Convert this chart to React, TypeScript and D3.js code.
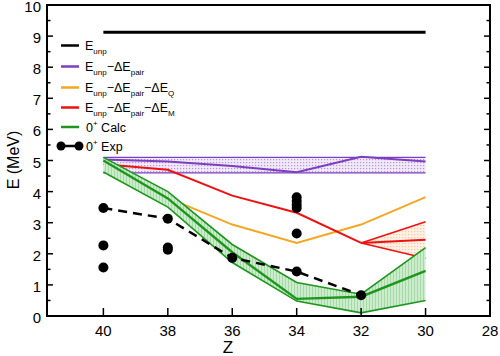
import React from "react";
import * as d3 from "d3";

const Z = [40, 38, 36, 34, 32, 30];
const unpZ = [40, 30];
const unpE = [9.12, 9.12];
const pairUpper = [5.1, 5.1, 5.1, 5.1, 5.1, 5.1];
const pairCenter = [5.03, 4.97, 4.82, 4.62, 5.12, 4.97];
const pairLower = [4.6, 4.6, 4.6, 4.6, 4.6, 4.6];
const quadE = [5.0, 3.8, 2.94, 2.35, 2.94, 3.82];
const magZ = [40, 38, 36, 34, 32];
const magE = [4.88, 4.7, 3.87, 3.32, 2.35];
const magFanZ = [32, 30];
const magFanUpper = [2.35, 3.03];
const magFanMid = [2.35, 2.45];
const magFanLower = [2.35, 1.86];
const calcUpper = [5.1, 4.0, 2.3, 1.08, 0.7, 2.2];
const calcCenter = [5.0, 3.78, 2.05, 0.55, 0.62, 1.45];
const calcLower = [4.63, 3.5, 1.72, 0.48, 0.1, 0.5];
const gsZ = [40, 38, 36, 34, 32];
const gsE = [3.47, 3.13, 1.87, 1.43, 0.67];
const expZ = [40, 40, 40, 38, 38, 38, 36, 34, 34, 34, 34, 34, 34, 32];
const expE = [3.47, 2.27, 1.56, 3.13, 2.2, 2.13, 1.87, 3.82, 3.7, 3.58, 3.47, 2.65, 1.43, 0.67];
const xTicks = [40, 38, 36, 34, 32, 30, 28];
const yTicks = [0, 1, 2, 3, 4, 5, 6, 7, 8, 9, 10];

const PURPLE = "#7b3fbf";
const ORANGE = "#f5a623";
const RED = "#ee1111";
const GREEN = "#1e961e";
const FONT = "'Liberation Sans', Arial, Helvetica, sans-serif";

export default function App() {
  const x = d3.scaleLinear().domain([41.75, 28]).range([47, 490]);
  const y = d3.scaleLinear().domain([0, 10]).range([316, 5]);
  const line = (zs: number[], es: number[]) =>
    d3.line<number>().x((_, i) => x(zs[i])).y((_, i) => y(es[i]))(zs) || "";
  const area = (zs: number[], lo: number[], hi: number[]) =>
    d3
      .area<number>()
      .x((_, i) => x(zs[i]))
      .y0((_, i) => y(lo[i]))
      .y1((_, i) => y(hi[i]))(zs) || "";

  const minor = d3.range(0, 10.01, 0.5).filter((v) => Math.abs(v - Math.round(v)) > 0.1);

  const legendRows = [45.5, 66.5, 87.5, 107.5, 127, 146];
  const lx0 = 61;
  const lx1 = 79;
  const tx = 85;

  return (
    <svg
      width={500}
      height={356}
      style={{ position: "absolute", left: 0, top: 0, background: "#fff" }}
      fontFamily={FONT}
    >
      <defs>
        <pattern id="pPurple" width="3" height="3" patternUnits="userSpaceOnUse">
          <rect width="3" height="3" fill="#f1e9f8" />
          <rect width="1.2" height="1.2" fill="#b596dc" />
        </pattern>
        <pattern id="pRed" width="3" height="3" patternUnits="userSpaceOnUse">
          <rect width="3" height="3" fill="#fff1e4" />
          <rect width="1.2" height="1.2" fill="#f7c8a8" />
        </pattern>
        <pattern id="pGreen" width="3" height="3" patternUnits="userSpaceOnUse">
          <rect width="3" height="3" fill="#cdeccd" />
          <rect width="1" height="3" fill="#a5d9a5" />
        </pattern>
      </defs>

      {/* purple band */}
      <path d={area(Z, pairLower, pairUpper)} fill="url(#pPurple)" />
      <path d={line(Z, pairUpper)} fill="none" stroke={PURPLE} strokeWidth={1.3} />
      <path d={line(Z, pairLower)} fill="none" stroke={PURPLE} strokeWidth={1.3} />
      <path d={line(Z, pairCenter)} fill="none" stroke={PURPLE} strokeWidth={2} />

      {/* red fan band */}
      <path d={area(magFanZ, magFanLower, magFanUpper)} fill="url(#pRed)" />

      {/* orange */}
      <path d={line(Z, quadE)} fill="none" stroke={ORANGE} strokeWidth={2} />

      {/* red */}
      <path d={line(magZ, magE)} fill="none" stroke={RED} strokeWidth={2} />
      <path d={line(magFanZ, magFanUpper)} fill="none" stroke={RED} strokeWidth={1.5} />
      <path d={line(magFanZ, magFanMid)} fill="none" stroke={RED} strokeWidth={2} />
      <path d={line(magFanZ, magFanLower)} fill="none" stroke={RED} strokeWidth={1.5} />

      {/* green band */}
      <path d={area(Z, calcLower, calcUpper)} fill="url(#pGreen)" />
      <path d={line(Z, calcUpper)} fill="none" stroke={GREEN} strokeWidth={1.6} />
      <path d={line(Z, calcLower)} fill="none" stroke={GREEN} strokeWidth={1.6} />
      <path d={line(Z, calcCenter)} fill="none" stroke={GREEN} strokeWidth={2.4} />

      {/* E_unp */}
      <path d={line(unpZ, unpE)} fill="none" stroke="#000" strokeWidth={3} />

      {/* experiment */}
      <path
        d={line(gsZ, gsE)}
        fill="none"
        stroke="#000"
        strokeWidth={2.5}
        strokeDasharray="9,6"
      />
      {expZ.map((z, i) => (
        <circle key={i} cx={x(z)} cy={y(expE[i])} r={5} fill="#000" />
      ))}

      {/* frame */}
      <rect x={47} y={5} width={443} height={311} fill="none" stroke="#000" strokeWidth={2} />

      {/* y ticks */}
      {yTicks.map((v) => (
        <g key={"y" + v}>
          <line x1={47} x2={53} y1={y(v)} y2={y(v)} stroke="#000" strokeWidth={1.5} />
          <line x1={490} x2={484} y1={y(v)} y2={y(v)} stroke="#000" strokeWidth={1.5} />
          <text x={41} y={y(v) + 1.8} dy="0.35em" textAnchor="end" fontSize={15}>
            {v}
          </text>
        </g>
      ))}
      {minor.map((v) => (
        <g key={"m" + v}>
          <line x1={47} x2={50.5} y1={y(v)} y2={y(v)} stroke="#000" strokeWidth={1.5} />
          <line x1={490} x2={486.5} y1={y(v)} y2={y(v)} stroke="#000" strokeWidth={1.5} />
        </g>
      ))}

      {/* x ticks */}
      {xTicks.map((v) => (
        <g key={"x" + v}>
          <line x1={x(v)} x2={x(v)} y1={316} y2={308} stroke="#000" strokeWidth={1.5} />
          <text x={x(v)} y={336} textAnchor="middle" fontSize={15}>
            {v}
          </text>
        </g>
      ))}

      {/* axis titles */}
      <text x={228} y={353} textAnchor="middle" fontSize={17}>
        Z
      </text>
      <text transform="translate(19,160) rotate(-90)" textAnchor="middle" fontSize={16}>
        E (MeV)
      </text>

      {/* legend */}
      <line x1={lx0} x2={lx1} y1={legendRows[0]} y2={legendRows[0]} stroke="#000" strokeWidth={2.5} />
      <line x1={lx0} x2={lx1} y1={legendRows[1]} y2={legendRows[1]} stroke={PURPLE} strokeWidth={2.5} />
      <line x1={lx0} x2={lx1} y1={legendRows[2]} y2={legendRows[2]} stroke={ORANGE} strokeWidth={2.5} />
      <line x1={lx0} x2={lx1} y1={legendRows[3]} y2={legendRows[3]} stroke={RED} strokeWidth={2.5} />
      <line x1={lx0} x2={lx1} y1={legendRows[4]} y2={legendRows[4]} stroke={GREEN} strokeWidth={2.5} />
      <line x1={lx0} x2={lx1} y1={legendRows[5]} y2={legendRows[5]} stroke="#000" strokeWidth={2.5} />
      <circle cx={lx0} cy={legendRows[5]} r={4.5} fill="#000" />
      <circle cx={lx1} cy={legendRows[5]} r={4.5} fill="#000" />

      <g fontSize={12.5}>
        <text x={tx} y={legendRows[0] + 4}>
          E<tspan fontSize={8} dy={4}>unp</tspan>
        </text>
        <text x={tx} y={legendRows[1] + 4}>
          E<tspan fontSize={8} dy={4}>unp</tspan>
          <tspan dy={-4}>−ΔE</tspan>
          <tspan fontSize={8} dy={4}>pair</tspan>
        </text>
        <text x={tx} y={legendRows[2] + 4}>
          E<tspan fontSize={8} dy={4}>unp</tspan>
          <tspan dy={-4}>−ΔE</tspan>
          <tspan fontSize={8} dy={4}>pair</tspan>
          <tspan dy={-4}>−ΔE</tspan>
          <tspan fontSize={8} dy={4}>Q</tspan>
        </text>
        <text x={tx} y={legendRows[3] + 4}>
          E<tspan fontSize={8} dy={4}>unp</tspan>
          <tspan dy={-4}>−ΔE</tspan>
          <tspan fontSize={8} dy={4}>pair</tspan>
          <tspan dy={-4}>−ΔE</tspan>
          <tspan fontSize={8} dy={4}>M</tspan>
        </text>
        <text x={tx + 1} y={legendRows[4] + 4.5}>
          0<tspan fontSize={8} dy={-6}>+</tspan>
          <tspan dy={6}> Calc</tspan>
        </text>
        <text x={tx + 1} y={legendRows[5] + 4.5}>
          0<tspan fontSize={8} dy={-6}>+</tspan>
          <tspan dy={6}> Exp</tspan>
        </text>
      </g>
    </svg>
  );
}
